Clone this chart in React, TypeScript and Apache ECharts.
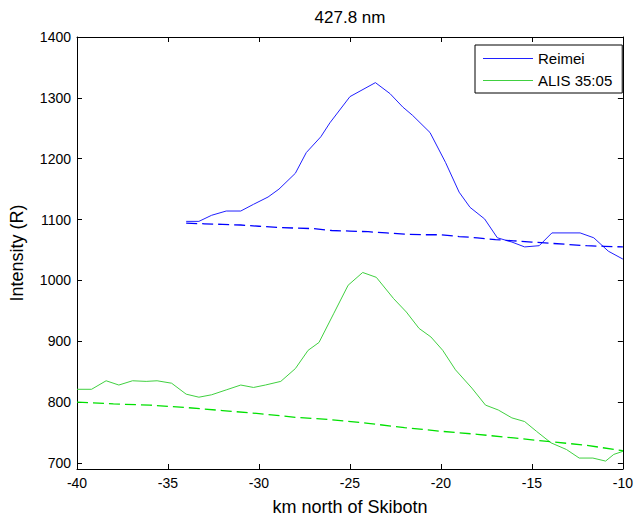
import React, { useEffect, useRef } from "react";
import * as echarts from "echarts";

const titleText = "427.8 nm";
const xLabel = "km north of Skibotn";
const yLabel = "Intensity (R)";
const yTicks = [700, 800, 900, 1000, 1100, 1200, 1300, 1400];

const reimeiX = [-34.0, -33.3, -32.6, -31.8, -31.0, -30.3, -29.5, -28.9, -28.0, -27.4, -26.6, -26.1, -25.0, -23.6, -22.8, -22.1, -21.55, -20.6, -19.75, -19.0, -18.4, -17.6, -16.9, -16.1, -15.4, -14.6, -13.9, -12.35, -11.6, -10.8, -10.0];
const reimeiY = [1097, 1097, 1107, 1114, 1114, 1125, 1137, 1150, 1176, 1210, 1236, 1259, 1302, 1325, 1307, 1285, 1271, 1243, 1194, 1145, 1120, 1101, 1070, 1063, 1055, 1057, 1078, 1078, 1070, 1048, 1035];

const reimeiFitX = [-34, -33, -32, -31, -30, -29, -28, -27, -26, -25, -24, -23, -22, -21, -20, -19, -18, -17, -16, -15, -14, -13, -12, -11, -10];
const reimeiFitY = [1094, 1093, 1092, 1091, 1089, 1087, 1086, 1085, 1082, 1081, 1080, 1078, 1076, 1075, 1075, 1072, 1070, 1067, 1065, 1063, 1061, 1059, 1057, 1056, 1055];

const alisX = [-40, -39.2, -38.4, -37.7, -36.95, -36.2, -35.6, -34.8, -34.0, -33.3, -32.6, -31.8, -31.0, -30.3, -29.65, -28.8, -28.0, -27.3, -26.7, -25.9, -25.1, -24.3, -23.55, -22.6, -21.9, -21.2, -20.55, -19.9, -19.2, -18.3, -17.55, -16.85, -16.1, -15.4, -14.75, -13.95, -13.1, -12.4, -11.65, -10.95, -10.5, -10.0];
const alisY = [821, 821, 835, 828, 835, 834, 835, 831, 813, 808, 812, 820, 828, 824, 828, 834, 855, 885, 898, 945, 992, 1013, 1005, 970, 948, 921, 907, 885, 853, 823, 795, 787, 774, 768, 752, 733, 722, 708, 708, 703, 714, 719];

const alisFitX = [-40, -38, -36, -35, -34, -32, -30, -28, -26, -24, -22, -20, -18, -16, -14, -12, -10];
const alisFitY = [800, 797, 795, 793, 791, 786, 781, 775, 771, 765, 758, 752, 747, 741, 735, 729, 720];

const zip = (xs: number[], ys: number[]) => xs.map((x, i) => [x, ys[i]]);

const FONT = "'Liberation Sans', Arial, sans-serif";

export default function App() {
  const ref = useRef<HTMLDivElement>(null);
  useEffect(() => {
    document.body.style.margin = "0";
    if (!ref.current) return;
    const chart = echarts.init(ref.current, null, { renderer: "svg" });
    const axisLine = { show: true, lineStyle: { color: "#000", width: 1 } };
    const tick = { show: true, inside: true, length: 5, lineStyle: { color: "#000", width: 1 } };
    chart.setOption({
      animation: false,
      backgroundColor: "#fff",
      textStyle: { fontFamily: FONT },
      title: {
        text: titleText,
        left: 345,
        textAlign: "center",
        top: 4,
        textStyle: { fontSize: 17, fontWeight: "normal", color: "#000", fontFamily: FONT },
      },
      legend: {
        data: ["Reimei", "ALIS 35:05"],
        orient: "vertical",
        left: 475,
        top: 45,
        padding: [6, 10, 5, 8],
        itemGap: 7,
        itemWidth: 50,
        itemHeight: 1,
        icon: "rect",
        borderColor: "#000",
        borderWidth: 1,
        backgroundColor: "#fff",
        textStyle: { fontSize: 15, color: "#000", fontFamily: FONT, lineHeight: 15 },
      },
      grid: { left: 77, right: 8, top: 37, bottom: 50, containLabel: false },
      xAxis: [
        {
          type: "value",
          min: -40,
          max: -10,
          interval: 5,
          position: "bottom",
          name: xLabel,
          nameLocation: "middle",
          nameGap: 29,
          nameTextStyle: { fontSize: 18, color: "#000", fontFamily: FONT },
          axisLine,
          axisTick: tick,
          axisLabel: { color: "#000", fontSize: 14, margin: 7, fontFamily: FONT, formatter: (v: number) => String(v) },
          splitLine: { show: false },
        },
        {
          type: "value",
          min: -40,
          max: -10,
          interval: 5,
          position: "top",
          axisLine,
          axisTick: tick,
          axisLabel: { show: false },
          splitLine: { show: false },
        },
      ],
      yAxis: [
        {
          type: "value",
          min: 690,
          max: 1400,
          position: "left",
          name: yLabel,
          nameLocation: "middle",
          nameGap: 51,
          nameTextStyle: { fontSize: 18, color: "#000", fontFamily: FONT },
          axisLine,
          axisTick: { ...tick, customValues: yTicks },
          axisLabel: {
            color: "#000",
            fontSize: 14,
            margin: 6,
            fontFamily: FONT,
            customValues: yTicks,
            formatter: (v: number) => String(v),
          },
          splitLine: { show: false },
        },
        {
          type: "value",
          min: 690,
          max: 1400,
          position: "right",
          axisLine,
          axisTick: { ...tick, customValues: yTicks },
          axisLabel: { show: false, customValues: yTicks },
          splitLine: { show: false },
        },
      ],
      series: [
        {
          name: "Reimei",
          type: "line",
          data: zip(reimeiX, reimeiY),
          symbol: "none",
          lineStyle: { color: "#2020ff", width: 1 },
          itemStyle: { color: "#2020ff" },
        },
        {
          name: "ALIS 35:05",
          type: "line",
          data: zip(alisX, alisY),
          symbol: "none",
          lineStyle: { color: "#40d040", width: 1 },
          itemStyle: { color: "#40d040" },
        },
        {
          name: "Reimei fit",
          type: "line",
          data: zip(reimeiFitX, reimeiFitY),
          symbol: "none",
          lineStyle: { color: "#0000ff", width: 1.3, type: [11, 5] },
          itemStyle: { color: "#0000ff" },
        },
        {
          name: "ALIS fit",
          type: "line",
          data: zip(alisFitX, alisFitY),
          symbol: "none",
          lineStyle: { color: "#00e000", width: 1.3, type: [11, 5] },
          itemStyle: { color: "#00e000" },
        },
      ],
    });
    return () => chart.dispose();
  }, []);
  return <div ref={ref} style={{ width: 636, height: 521 }} />;
}
